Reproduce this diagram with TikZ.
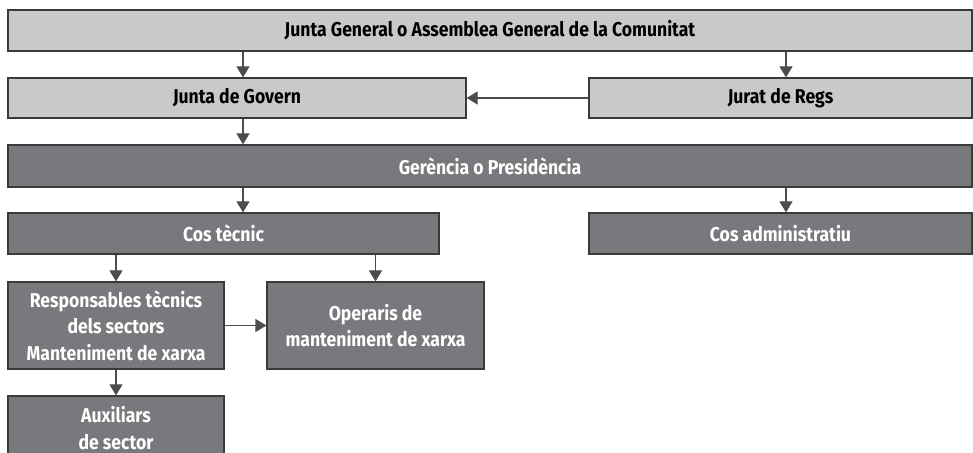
\documentclass[tikz,border=0pt]{standalone}
\usepackage{fontspec}
\setmainfont{Fira Sans}[FakeStretch=0.88]
\usetikzlibrary{positioning,
        arrows.meta}
\definecolor{boxlight}{HTML}{C8C9CB}
\definecolor{boxdark}{HTML}{78797C}
\definecolor{boxline}{HTML}{3A3A3A}

\begin{document}
\begin{tikzpicture}[x=0.5pt,y=-0.5pt,
        light/.style={rectangle,draw=boxline,line width=0.6pt,fill=boxlight,inner sep=0pt,align=center,
                font=\bfseries\fontsize{10}{13.3}\selectfont},
        dark/.style={light,fill=boxdark,text=white},
        arr/.style={-{Triangle[length=5.5pt,width=6.5pt]},draw=black!70,line width=0.6pt}]
            \useasboundingbox (0,0) rectangle (973,453);
            \clip (0,0) rectangle (973,453);
            \node [light,minimum width=482pt,minimum height=20.5pt] (general) at (490,30.5) {Junta General o Assemblea General de la Comunitat};
            \node [light,minimum width=229pt,minimum height=20pt] (govern) at (237,98) {Junta de Govern};
            \node [light,minimum width=191.5pt,minimum height=20pt] (jurat) at (780.5,98) {Jurat de Regs};
            \node [dark,minimum width=482pt,minimum height=21pt] (gerencia) at (490,166) {Gerència o Presidència};
            \node [dark,minimum width=215.5pt,minimum height=20.5pt] (tecnic) at (223.5,233.5) {Cos tècnic};
            \node [dark,minimum width=191.5pt,minimum height=20.5pt] (admin) at (780.5,233.5) {Cos administratiu};
            \node [dark,minimum width=108pt,minimum height=43.5pt] (resp) at (116,325.5) {Responsables tècnics\\dels sectors\\Manteniment de xarxa};
            \node [dark,minimum width=108.5pt,minimum height=43.5pt] (operaris) at (375.5,325.5) {Operaris de\\manteniment de xarxa};
            \node [dark,minimum width=108pt,minimum height=32pt] (aux) at (116,428) {Auxiliars\\de sector};

            \coordinate (c1) at (243,0);
            \coordinate (c2) at (786,0);
            \draw [arr] (general.south -| c1) -- (govern.north -| c1);
            \draw [arr] (general.south -| c2) -- (jurat.north -| c2);
            \draw [arr] (jurat) -- (govern);
            \draw [arr] (govern.south -| c1) -- (gerencia.north -| c1);
            \draw [arr] (gerencia.south -| c1) -- (tecnic.north -| c1);
            \draw [arr] (gerencia.south -| c2) -- (admin.north -| c2);
            \draw [arr] (tecnic.south -| resp) -- (resp);
            \draw [arr] (tecnic.south -| operaris) -- (operaris);
            \draw [arr] (resp) -- (operaris);
            \draw [arr] (resp) -- (aux);
        \end{tikzpicture}
\end{document}
